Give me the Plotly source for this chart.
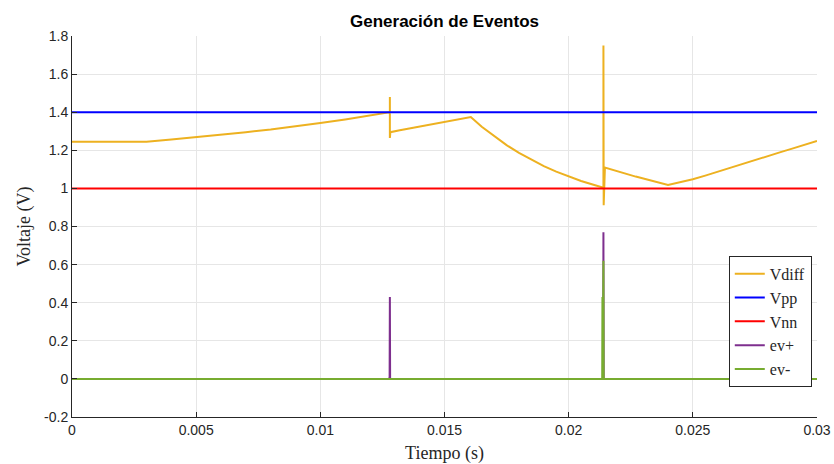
import plotly.graph_objects as go

# ---- data ----
t_vdiff = [0.0, 0.003, 0.004, 0.005, 0.006, 0.007, 0.008, 0.009, 0.010, 0.011, 0.012, 0.0128,
           0.0128, 0.0128, 0.01282, 0.0132, 0.0145, 0.01606,
           0.0165, 0.0170, 0.0175, 0.0180, 0.0185, 0.0190, 0.0195, 0.0200, 0.0205, 0.0210, 0.0214,
           0.0214, 0.02141, 0.02146, 0.0227, 0.0240,
           0.0245, 0.0250, 0.0255, 0.0260, 0.0265, 0.0270, 0.0275, 0.0280, 0.0285, 0.0290, 0.0295, 0.0300]
v_vdiff = [1.245, 1.245, 1.257, 1.269, 1.282, 1.295, 1.309, 1.325, 1.343, 1.362, 1.383, 1.400,
           1.480, 1.265, 1.295, 1.305, 1.338, 1.375,
           1.324, 1.273, 1.227, 1.186, 1.150, 1.117, 1.088, 1.062, 1.039, 1.019, 1.004,
           1.750, 0.912, 1.109, 1.062, 1.018,
           1.032, 1.048, 1.067, 1.088, 1.108, 1.128, 1.148, 1.169, 1.189, 1.209, 1.229, 1.249]

t_ref = [0.0, 0.03]
v_pp = [1.4, 1.4]
v_nn = [1.0, 1.0]

t_evp = [0.0, 0.01277, 0.01279, 0.0128, 0.01281, 0.02139, 0.0214, 0.02141, 0.03]
v_evp = [0.0, 0.0, 0.01, 0.43, 0.0, 0.0, 0.77, 0.0, 0.0]

t_evn = [0.0, 0.02135, 0.02136, 0.02137, 0.0214, 0.02141, 0.03]
v_evn = [0.0, 0.0, 0.43, 0.0, 0.62, 0.0, 0.0]

x_tickvals = [0, 0.005, 0.01, 0.015, 0.02, 0.025, 0.03]
x_ticktext = ["0", "0.005", "0.01", "0.015", "0.02", "0.025", "0.03"]
y_tickvals = [-0.2, 0, 0.2, 0.4, 0.6, 0.8, 1.0, 1.2, 1.4, 1.6, 1.8]
y_ticktext = ["-0.2", "0", "0.2", "0.4", "0.6", "0.8", "1", "1.2", "1.4", "1.6", "1.8"]

series = [
    ("Vdiff", t_vdiff, v_vdiff, "#EDB120"),
    ("Vpp", t_ref, v_pp, "#0000FF"),
    ("Vnn", t_ref, v_nn, "#FF0000"),
    ("ev+", t_evp, v_evp, "#7E2F8E"),
    ("ev-", t_evn, v_evn, "#77AC30"),
]

fig = go.Figure()
for name, x, y, c in series:
    fig.add_trace(go.Scatter(x=x, y=y, mode="lines", name=name,
                             line=dict(color=c, width=2)))

tick_font = dict(family="Liberation Sans, Arial, sans-serif", size=14, color="#262626")
fig.update_layout(
    width=834, height=464,
    margin=dict(l=72, r=17, t=36, b=47),
    paper_bgcolor="white", plot_bgcolor="white",
    title=dict(text="<b>Generación de Eventos</b>", x=(72 + 817) / 2 / 834, xanchor="center",
               y=1 - 21 / 464, yanchor="middle",
               font=dict(family="Liberation Sans, Arial, sans-serif", size=17, color="black")),
    xaxis=dict(range=[0, 0.03], tickvals=x_tickvals, ticktext=x_ticktext, automargin=False,
               showgrid=True, gridcolor="#e6e6e6", gridwidth=1,
               zeroline=False, showline=True, linecolor="#262626", linewidth=1,
               ticks="inside", ticklen=5, tickcolor="#262626", tickfont=tick_font,
               title=dict(text="Tiempo (s)", standoff=12,
                          font=dict(family="Liberation Serif, Times New Roman, serif", size=18, color="#262626"))),
    yaxis=dict(range=[-0.2, 1.8], tickvals=y_tickvals, ticktext=y_ticktext, automargin=False,
               showgrid=True, gridcolor="#e6e6e6", gridwidth=1,
               zeroline=False, showline=True, linecolor="#262626", linewidth=1,
               ticks="inside", ticklen=5, tickcolor="#262626", tickfont=tick_font,
               title=dict(text="Voltaje (V)", standoff=8,
                          font=dict(family="Liberation Serif, Times New Roman, serif", size=18, color="#262626"))),
    legend=dict(x=0.993, y=0.423, xanchor="right", yanchor="top",
                bgcolor="white", bordercolor="#262626", borderwidth=1,
                font=dict(family="Liberation Serif, Times New Roman, serif", size=16, color="#262626"),
                tracegroupgap=0, itemwidth=30),
    showlegend=True,
)

fig.write_html("out.html")
